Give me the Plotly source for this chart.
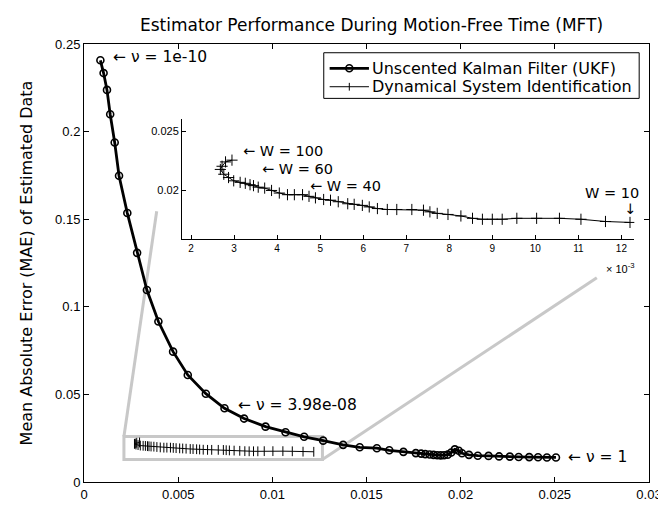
import plotly.graph_objects as go

# ---------------- data ----------------
ukf_x = [0.00087, 0.00104, 0.00122, 0.00139, 0.00163, 0.00186, 0.00230, 0.00282,
         0.00334, 0.00395, 0.00473, 0.00551, 0.00647, 0.00746, 0.00850, 0.00964,
         0.01070, 0.01169, 0.01270, 0.01376, 0.01464, 0.01555, 0.01621, 0.01696,
         0.01762, 0.01790, 0.01812, 0.01835, 0.01856, 0.01875, 0.01894, 0.01912,
         0.01931, 0.01950, 0.01969, 0.01990, 0.02007, 0.02044, 0.02091, 0.02148,
         0.02204, 0.02261, 0.02308, 0.02364, 0.02411, 0.02458, 0.02506]
ukf_y = [0.2407, 0.2334, 0.2238, 0.2099, 0.1938, 0.1748, 0.1535, 0.1308,
         0.1096, 0.0916, 0.0744, 0.0611, 0.0504, 0.0421, 0.0362, 0.0316,
         0.0284, 0.0258, 0.0236, 0.0212, 0.0198, 0.0193, 0.0181, 0.0172,
         0.0165, 0.0162, 0.0159, 0.0157, 0.0155, 0.0153, 0.0152, 0.0153,
         0.0156, 0.0168, 0.0186, 0.0178, 0.0164, 0.0155, 0.0150, 0.0149,
         0.0146, 0.0145, 0.0143, 0.0142, 0.0141, 0.0140, 0.0140]

# Dynamical System Identification (x in units of 1e-3)
dsi_x = [2.95, 2.80, 2.72, 2.68, 2.76, 2.87, 2.99, 3.14, 3.26, 3.37, 3.45, 3.56,
         3.71, 3.87, 4.05, 4.24, 4.40, 4.59, 4.74, 4.89, 5.08, 5.24, 5.42, 5.64,
         5.79, 5.98, 6.14, 6.33, 6.56, 6.78, 7.13, 7.40, 7.55, 7.72, 7.97, 8.27,
         8.54, 8.77, 9.00, 9.23, 9.57, 10.03, 10.56, 11.06, 11.63, 12.20]
dsi_y = [0.02255, 0.02240, 0.02203, 0.02176, 0.02135, 0.02107, 0.02079, 0.02066,
         0.02058, 0.02046, 0.02038, 0.02025, 0.02017, 0.01997, 0.01975, 0.01961,
         0.01961, 0.01961, 0.01947, 0.01934, 0.01920, 0.01914, 0.01901, 0.01884,
         0.01879, 0.01870, 0.01857, 0.01843, 0.01835, 0.01835, 0.01835, 0.01829,
         0.01815, 0.01802, 0.01793, 0.01780, 0.01760, 0.01752, 0.01752, 0.01752,
         0.01760, 0.01760, 0.01760, 0.01752, 0.01733, 0.01725]
dsi_scale = 1e-3

series_names = ["Unscented Kalman Filter (UKF)", "Dynamical System Identification"]

x_ticks = [0, 0.005, 0.01, 0.015, 0.02, 0.025, 0.03]
x_ticktext = ["0", "0.005", "0.01", "0.015", "0.02", "0.025", "0.03"]
y_ticks = [0, 0.05, 0.1, 0.15, 0.2, 0.25]
y_ticktext = ["0", "0.05", "0.1", "0.15", "0.2", "0.25"]
inset_x_ticks = [2, 3, 4, 5, 6, 7, 8, 9, 10, 11, 12]
inset_y_ticks = [0.02, 0.025]
inset_y_ticktext = ["0.02", "0.025"]

# zoom region (main-axes data units) and connector end points
zoom_x = [0.00212, 0.01266]
zoom_y = [0.0128, 0.0260]
conn1_end = (0.00386, 0.1545)
conn2_end = (0.02723, 0.1166)

FONT = "Liberation Sans, Arial, sans-serif"
WFONT = "DejaVu Sans, Verdana, sans-serif"
GRAY = "#c8c8c8"
W, H = 666, 506
ML, MR, MT, MB = 76, 15, 36, 19
PW, PH = W - ML - MR, H - MT - MB


def px(xp):
    return (xp - ML) / PW


def py(yp):
    return (H - MB - yp) / PH


fig = go.Figure()

fig.add_trace(go.Scatter(
    x=ukf_x, y=ukf_y, mode="lines+markers", name=series_names[0], showlegend=False,
    line=dict(color="black", width=2.8),
    marker=dict(symbol="circle-open", size=7, color="black", line=dict(width=1.6)),
))
fig.add_trace(go.Scatter(
    x=[v * dsi_scale for v in dsi_x], y=dsi_y, mode="lines+markers",
    name=series_names[1], showlegend=False,
    line=dict(color="black", width=1),
    marker=dict(symbol="line-ns-open", size=7, color="black", line=dict(width=1)),
))
fig.add_trace(go.Scatter(
    x=dsi_x, y=dsi_y, mode="lines+markers", xaxis="x2", yaxis="y2", showlegend=False,
    name=series_names[1],
    line=dict(color="black", width=1),
    marker=dict(symbol="cross-thin-open", size=8, color="black", line=dict(width=1)),
))

# gray zoom rectangle and connectors
fig.add_shape(type="rect", xref="x", yref="y", x0=zoom_x[0], x1=zoom_x[1],
              y0=zoom_y[0], y1=zoom_y[1], line=dict(color=GRAY, width=3), layer="below")
fig.add_shape(type="line", xref="x", yref="y", x0=zoom_x[0], y0=zoom_y[1],
              x1=conn1_end[0], y1=conn1_end[1], line=dict(color=GRAY, width=3), layer="below")
fig.add_shape(type="line", xref="x", yref="y", x0=zoom_x[1], y0=zoom_y[0],
              x1=conn2_end[0], y1=conn2_end[1], line=dict(color=GRAY, width=3), layer="below")

# ---- legend box (drawn to match the compact original legend) ----
LG_L, LG_R, LG_T, LG_B = 320, 641, 45, 92
row_y = [61, 80]
fig.add_shape(type="rect", xref="paper", yref="paper", x0=px(LG_L), x1=px(LG_R),
              y0=py(LG_B), y1=py(LG_T), line=dict(color="black", width=1),
              fillcolor="white", layer="above")
fig.add_shape(type="line", xref="paper", yref="paper", x0=px(326), x1=px(366),
              y0=py(row_y[0]), y1=py(row_y[0]), line=dict(color="black", width=2.8))
fig.add_shape(type="circle", xref="paper", yref="paper", xsizemode="pixel",
              ysizemode="pixel", xanchor=px(346), yanchor=py(row_y[0]),
              x0=-3.5, x1=3.5, y0=-3.5, y1=3.5, line=dict(color="black", width=1.6))
fig.add_shape(type="line", xref="paper", yref="paper", x0=px(326), x1=px(366),
              y0=py(row_y[1]), y1=py(row_y[1]), line=dict(color="black", width=1))
fig.add_shape(type="line", xref="paper", yref="paper", x0=px(346), x1=px(346),
              y0=py(row_y[1] - 4), y1=py(row_y[1] + 4), line=dict(color="black", width=1))
for name, ry in zip(series_names, row_y):
    fig.add_annotation(x=px(367), y=py(ry), xref="paper", yref="paper", text=name,
                       showarrow=False, xanchor="left", yanchor="middle",
                       font=dict(family=WFONT, size=16, color="black"))

nu_font = dict(family=WFONT, size=15.5, color="black")
w_font = dict(family=WFONT, size=14.5, color="black")
anns = [
    dict(x=ukf_x[0], y=ukf_y[0], xref="x", yref="y", text="\u2190 \u03bd = 1e-10",
         xanchor="left", yanchor="middle", xshift=11, yshift=3, font=nu_font),
    dict(x=ukf_x[13], y=ukf_y[13], xref="x", yref="y", text="\u2190 \u03bd = 3.98e-08",
         xanchor="left", yanchor="middle", xshift=11, yshift=3, font=nu_font),
    dict(x=ukf_x[-1], y=ukf_y[-1], xref="x", yref="y", text="\u2190 \u03bd = 1",
         xanchor="left", yanchor="middle", xshift=10, yshift=0, font=nu_font),
    dict(x=dsi_x[0], y=dsi_y[0], xref="x2", yref="y2", text="\u2190 W = 100",
         xanchor="left", yanchor="middle", xshift=9, yshift=9, font=w_font),
    dict(x=dsi_x[9], y=dsi_y[9], xref="x2", yref="y2", text="\u2190 W = 60",
         xanchor="left", yanchor="middle", xshift=10, yshift=16, font=w_font),
    dict(x=dsi_x[18], y=dsi_y[18], xref="x2", yref="y2", text="\u2190 W = 40",
         xanchor="left", yanchor="middle", xshift=-1, yshift=10, font=w_font),
    dict(x=dsi_x[-1], y=dsi_y[-1], xref="x2", yref="y2", text="W = 10",
         xanchor="center", yanchor="middle", xshift=-18, yshift=29, font=w_font),
    dict(x=dsi_x[-1], y=dsi_y[-1], xref="x2", yref="y2", text="\u2193",
         xanchor="center", yanchor="middle", xshift=0, yshift=13, font=w_font),
]
for a in anns:
    a.update(showarrow=False)
    fig.add_annotation(**a)

fig.add_annotation(x=12.3, y=0, xref="x2", yref="y2 domain", text="\u00d7 10<sup>-3</sup>",
                   showarrow=False, xanchor="right", yanchor="middle", yshift=-29, xshift=3,
                   font=dict(family=FONT, size=11, color="black"))

axis_common = dict(showgrid=False, zeroline=False, showline=True, linecolor="black",
                   linewidth=1, ticks="inside", ticklen=5, tickcolor="black",
                   tickfont=dict(family=FONT, size=13, color="black"))

fig.update_layout(
    width=W, height=H,
    margin=dict(l=ML, r=MR, t=MT, b=MB),
    paper_bgcolor="white", plot_bgcolor="white",
    font=dict(family=FONT, color="black"),
    showlegend=False,
    title=dict(text="Estimator Performance During Motion-Free Time (MFT)",
               x=(ML + W - MR) / 2 / W, xanchor="center", y=1 - 17 / H, yanchor="middle",
               font=dict(family=WFONT, size=17, color="black")),
    xaxis=dict(range=[0, 0.03], tickvals=x_ticks, ticktext=x_ticktext, mirror="ticks",
               **axis_common),
    yaxis=dict(range=[0, 0.25], tickvals=y_ticks, ticktext=y_ticktext, mirror="ticks",
               title=dict(text="Mean Absolute Error (MAE) of Estimated Data",
                          font=dict(family=WFONT, size=16, color="black"), standoff=18),
               **axis_common),
    xaxis2=dict(domain=[0.1734, 0.974], anchor="y2", range=[1.788, 12.3],
                tickvals=inset_x_ticks, showgrid=False, zeroline=False, showline=True,
                linecolor="black", linewidth=1, ticks="inside", ticklen=4, tickcolor="black",
                tickfont=dict(family=FONT, size=10, color="black")),
    yaxis2=dict(domain=[0.554, 0.829], anchor="x2", range=[0.01581, 0.02606],
                tickvals=inset_y_ticks, ticktext=inset_y_ticktext, showgrid=False,
                zeroline=False, showline=True, linecolor="black", linewidth=1,
                ticks="inside", ticklen=4, tickcolor="black",
                tickfont=dict(family=FONT, size=11, color="black")),
)

fig.write_html("out.html")
